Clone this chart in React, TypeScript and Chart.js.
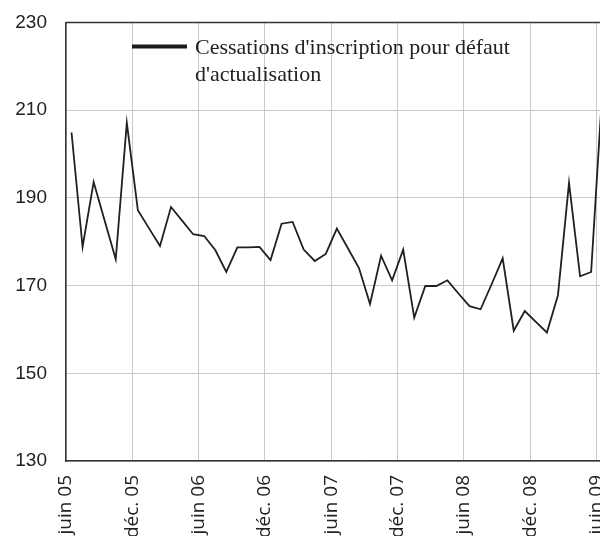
import React, { useEffect, useRef } from 'react';
import { Chart, registerables } from 'chart.js';

Chart.register(...registerables);

const months = [
  'juin 05', 'juil. 05', 'août 05', 'sept. 05', 'oct. 05', 'nov. 05', 'déc. 05',
  'janv. 06', 'févr. 06', 'mars 06', 'avr. 06', 'mai 06', 'juin 06', 'juil. 06', 'août 06', 'sept. 06', 'oct. 06', 'nov. 06', 'déc. 06',
  'janv. 07', 'févr. 07', 'mars 07', 'avr. 07', 'mai 07', 'juin 07', 'juil. 07', 'août 07', 'sept. 07', 'oct. 07', 'nov. 07', 'déc. 07',
  'janv. 08', 'févr. 08', 'mars 08', 'avr. 08', 'mai 08', 'juin 08', 'juil. 08', 'août 08', 'sept. 08', 'oct. 08', 'nov. 08', 'déc. 08',
  'janv. 09', 'févr. 09', 'mars 09', 'avr. 09', 'mai 09', 'juin 09',
];

const values = [
  204.9, 178.8, 193.6, 184.8, 176.0, 207.1, 187.2,
  183.1, 179.0, 187.9, 184.8, 181.7, 181.3, 178.1, 173.1, 178.7, 178.7, 178.8, 175.8,
  184.1, 184.5, 178.2, 175.6, 177.2, 183.0, 178.5, 174.0, 165.8, 176.8, 171.2, 178.2,
  162.7, 169.9, 169.9, 171.2, 168.2, 165.3, 164.6, 170.3, 176.2, 159.7, 164.2, 161.7,
  159.3, 167.8, 193.4, 172.1, 173.1, 214.0,
];

const tickLabels = ['juin 05', 'déc. 05', 'juin 06', 'déc. 06', 'juin 07', 'déc. 07', 'juin 08', 'déc. 08', 'juin 09'];

const seriesLabelLines = ["Cessations d'inscription pour défaut", "d'actualisation"];

const legendPlugin = {
  id: 'customLegendAndFrame',
  afterDraw(chart: any) {
    const ctx = chart.ctx;
    const a = chart.chartArea;
    ctx.save();
    // top frame line
    ctx.strokeStyle = '#333333';
    ctx.lineWidth = 1.5;
    ctx.beginPath();
    ctx.moveTo(a.left, a.top);
    ctx.lineTo(a.right, a.top);
    ctx.stroke();
    // legend
    const x0 = a.left + 66;
    const y0 = a.top + 24;
    ctx.strokeStyle = '#1a1a1a';
    ctx.lineWidth = 4;
    ctx.beginPath();
    ctx.moveTo(x0, y0);
    ctx.lineTo(x0 + 55, y0);
    ctx.stroke();
    ctx.fillStyle = '#222222';
    ctx.font = '22px "Liberation Serif"';
    ctx.textBaseline = 'alphabetic';
    ctx.textAlign = 'left';
    seriesLabelLines.forEach((t, i) => ctx.fillText(t, x0 + 63, y0 + 8 + i * 27));
    ctx.restore();
  },
};

export default function App() {
  const ref = useRef<HTMLCanvasElement | null>(null);

  useEffect(() => {
    if (!ref.current) return;
    const chart = new Chart(ref.current, {
      type: 'line',
      data: {
        datasets: [
          {
            label: seriesLabelLines.join(' '),
            data: values.map((v, i) => ({ x: i + 0.5, y: v, m: months[i] })) as any,
            borderColor: '#231f20',
            borderWidth: 1.8,
            pointRadius: 0,
            tension: 0,
            fill: false,
          },
        ],
      },
      options: {
        responsive: false,
        animation: false,
        layout: { padding: { top: 22, right: 0, left: 0, bottom: 0 } },
        plugins: { legend: { display: false }, tooltip: { enabled: false } },
        scales: {
          x: {
            type: 'linear',
            min: 0,
            max: 53.73,
            afterFit: (axis: any) => {
              axis.height = 75;
            },
            grid: { color: '#cacaca', lineWidth: 1, drawTicks: false },
            border: { color: '#333333', width: 1.5 },
            ticks: {
              stepSize: 6,
              includeBounds: false,
              autoSkip: false,
              maxRotation: 90,
              minRotation: 90,
              padding: 14,
              color: '#222222',
              font: { family: '"Open Sans"', size: 19 },
              callback: (v: any) => {
                const idx = Math.round(Number(v) / 6);
                return Number(v) % 6 === 0 && tickLabels[idx] ? tickLabels[idx] : '';
              },
            },
          },
          y: {
            min: 130,
            max: 230,
            afterFit: (axis: any) => {
              axis.width = 66;
            },
            grid: { color: '#cacaca', lineWidth: 1, drawTicks: false },
            border: { color: '#333333', width: 1.5 },
            ticks: {
              stepSize: 20,
              padding: 19,
              color: '#222222',
              font: { family: '"Liberation Sans"', size: 19 },
            },
          },
        },
      },
      plugins: [legendPlugin],
    });
    return () => chart.destroy();
  }, []);

  return (
    <div style={{ position: 'absolute', left: 0, top: 0, width: 600, height: 536, overflow: 'hidden', background: '#fff' }}>
      <canvas ref={ref} width={660} height={544} style={{ display: 'block', marginTop: -8 }} />
    </div>
  );
}
